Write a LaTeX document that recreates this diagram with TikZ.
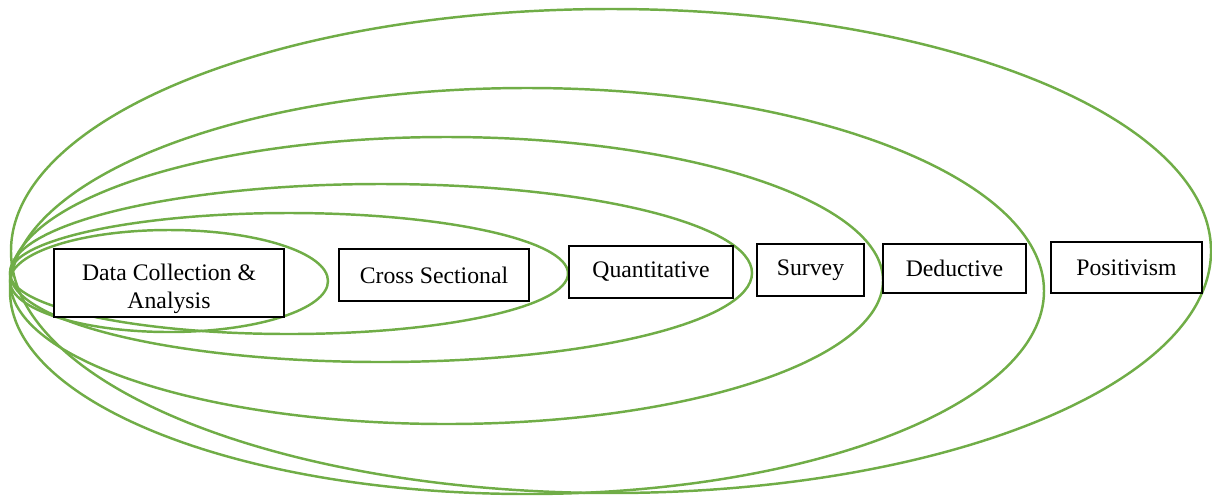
\documentclass[tikz,border=0pt]{standalone}
\usepackage{fontspec}
\setmainfont{Liberation Serif}
\usetikzlibrary{positioning}
\definecolor{ringgreen}{RGB}{112,173,71}
\tikzset{
	ring/.style={draw=ringgreen,line width=1.4pt},
	box/.style={draw,fill=white,rectangle,align=center,inner sep=0pt,line width=0.7pt,
		font=\fontsize{13.5}{15.4}\selectfont},
}

\begin{document}
\begin{tikzpicture}[x=0.02cm,y=-0.02cm]
            \useasboundingbox (0,0) rectangle (1212,495);
            \clip (0,0) rectangle (1212,495);
            \draw[ring] (611,251) ellipse [x radius=600, y radius=242];
            \draw[ring] (527,291) ellipse [x radius=517, y radius=203];
            \draw[ring] (446.5,280.5) ellipse [x radius=436.5, y radius=143.5];
            \draw[ring] (381,273) ellipse [x radius=371, y radius=89];
            \draw[ring] (289,273.5) ellipse [x radius=279, y radius=60.5];
            \draw[ring] (169,281) ellipse [x radius=159, y radius=51];
            \node[box,minimum width=4.6cm,minimum height=1.36cm] (data) at (169,283) {\rule{0pt}{16pt}Data Collection \&\\Analysis};
            \node[box,minimum width=3.8cm,minimum height=1.04cm] (cross) at (434,275) {Cross Sectional};
            \node[box,minimum width=3.28cm,minimum height=1.04cm] (quant) at (651,272) {Quantitative};
            \node[box,minimum width=2.14cm,minimum height=1.04cm] (survey) at (810.5,270) {Survey};
            \node[box,minimum width=2.86cm,minimum height=0.98cm] (deduct) at (954.5,268.5) {Deductive};
            \node[box,minimum width=3.02cm,minimum height=1.02cm] (posit) at (1126.5,267.5) {Positivism};
        \end{tikzpicture}
\end{document}
